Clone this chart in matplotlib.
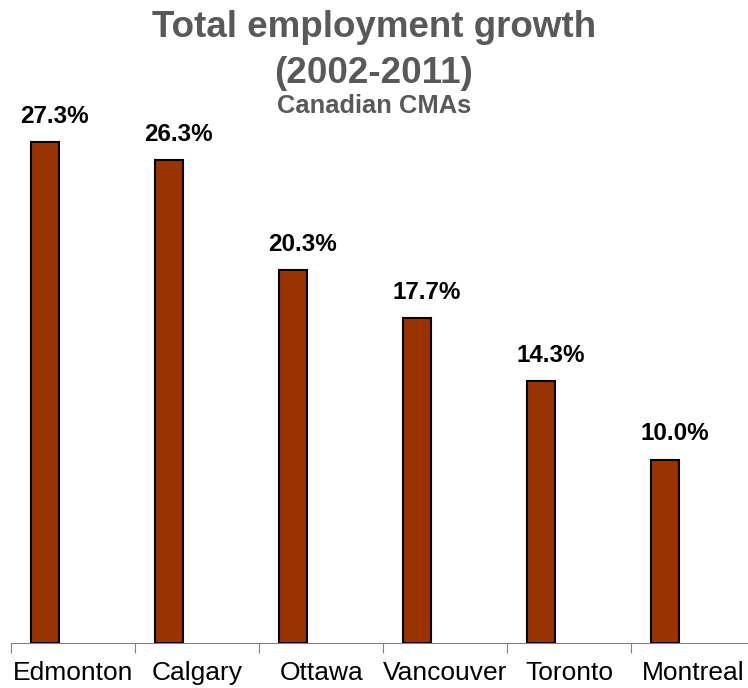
import numpy as np
import matplotlib.pyplot as plt

plt.rcParams['font.family'] = ['Liberation Sans', 'DejaVu Sans']

cities = ["Edmonton", "Calgary", "Ottawa", "Vancouver", "Toronto", "Montreal"]
growth = [27.3, 26.3, 20.3, 17.7, 14.3, 10.0]
labels = ["27.3%", "26.3%", "20.3%", "17.7%", "14.3%", "10.0%"]

fig = plt.figure(figsize=(7.48, 6.88), dpi=100)
ax = fig.add_axes([11 / 748, 45 / 688, 737 / 748, 550.5 / 688])

x = np.arange(len(cities))
bar_x = x - 0.226
ax.bar(bar_x, growth, width=0.226, color="#993300", edgecolor="black", linewidth=1.5, zorder=2)

# value labels sit a little right of the bar centre, like the original
for bx, v, lab in zip(bar_x, growth, labels):
    ax.annotate(lab, (bx, v), xytext=(6.5, 13.7), textcoords="offset points",
                ha="center", va="baseline", fontsize=17.4, fontweight="bold", color="black")

ax.set_xlim(-0.5, 5.44)
ax.set_ylim(0, 30)
ax.set_xticks(np.arange(-0.5, 5.5, 1.0))
ax.set_xticklabels([])
ax.set_xticks(x, minor=True)
ax.set_xticklabels(cities, minor=True, fontsize=19)
ax.tick_params(axis="x", which="major", length=7, color="#808080", direction="out")
ax.tick_params(axis="x", which="minor", length=0, pad=13)
ax.set_yticks([])
for s in ["left", "right", "top"]:
    ax.spines[s].set_visible(False)
ax.spines["bottom"].set_color("#808080")

fig.text(0.5, 1 - 37 / 688, "Total employment growth", ha="center", va="baseline",
         fontsize=26.5, fontweight="bold", color="#595959")
fig.text(0.5, 1 - 83 / 688, "(2002-2011)", ha="center", va="baseline",
         fontsize=26.5, fontweight="bold", color="#595959")
fig.text(0.5, 1 - 113 / 688, "Canadian CMAs", ha="center", va="baseline",
         fontsize=18.4, fontweight="bold", color="#595959")

fig.savefig("out.png", dpi=100)
